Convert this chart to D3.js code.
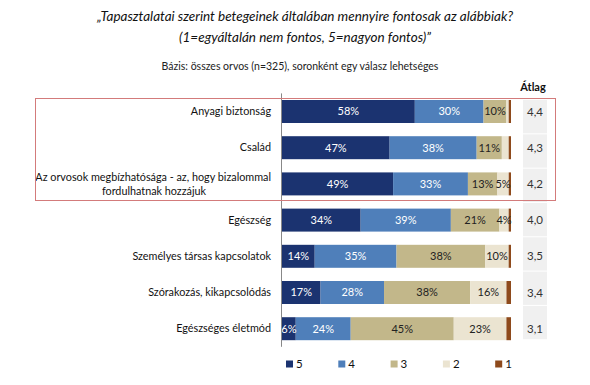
<!DOCTYPE html>
<html>
<head>
    <meta charset='utf-8'>
    <title>Átlag chart</title>
    <style>
        body { margin: 0; background: #fff; }
        svg text { font-family: "Lato", "Open Sans", sans-serif; }
    </style>
</head>
<body>
<svg width="590" height="385"></svg>
<script src="https://d3js.org/d3.v7.min.js"></script>
<script>
    const width = 590
    const height = 385

    const categories = [
        ["Anyagi biztonság"],
        ["Család"],
        ["Az orvosok megbízhatósága - az, hogy bizalommal", "fordulhatnak hozzájuk"],
        ["Egészség"],
        ["Személyes társas kapcsolatok"],
        ["Szórakozás, kikapcsolódás"],
        ["Egészséges életmód"]
    ]
    const keys = ["5", "4", "3", "2", "1"]
    const s5 = [58, 47, 49, 34, 14, 17, 6]
    const s4 = [30, 38, 33, 39, 35, 28, 24]
    const s3 = [10, 11, 13, 21, 38, 38, 45]
    const s2 = [1, 3, 5, 4, 10, 16, 23]
    const s1 = [1, 1, 1, 1, 1, 2, 2]
    const averages = ["4,4", "4,3", "4,2", "4,0", "3,5", "3,4", "3,1"]

    const colors = ["#1b3370", "#4f7fba", "#c2b78a", "#ebe4d1", "#8e4a1c"]
    const labelColors = ["#fff", "#fff", "#222", "#222", "#222"]
    const valuesByKey = {"5": s5, "4": s4, "3": s3, "2": s2, "1": s1}

    const rows = categories.map((c, i) => ({
        idx: i, "5": s5[i], "4": s4[i], "3": s3[i], "2": s2[i], "1": s1[i]
    }))

    const stack = d3.stack().keys(keys).offset(d3.stackOffsetExpand)
    const series = stack(rows)

    const x = d3.scaleLinear().domain([0, 1]).range([282, 511])
    const y = d3.scaleBand()
        .domain(d3.range(categories.length))
        .range([93.4, 346.8])
        .paddingInner(0.365)
        .paddingOuter(0.1825)

    const svg = d3.select("svg")

    // titles
    const title = svg.append("g")
        .attr("text-anchor", "middle")
        .attr("font-style", "italic")
        .attr("font-size", 13.5)
        .attr("fill", "#111")
    title.append("text").attr("x", 305).attr("y", 21)
        .text("„Tapasztalatai szerint betegeinek általában mennyire fontosak az alábbiak?")
    title.append("text").attr("x", 305).attr("y", 42)
        .text("(1=egyáltalán nem fontos, 5=nagyon fontos)”")

    svg.append("text")
        .attr("x", 300).attr("y", 70)
        .attr("text-anchor", "middle")
        .attr("font-size", 10.5)
        .attr("fill", "#222")
        .text("Bázis: összes orvos (n=325), soronként egy válasz lehetséges")

    svg.append("text")
        .attr("x", 533).attr("y", 91)
        .attr("text-anchor", "middle")
        .attr("font-size", 11)
        .attr("font-weight", "bold")
        .attr("fill", "#111")
        .text("Átlag")

    // average column
    const cellTop = y(0)
    const cellBottom = y(categories.length - 1) + y.bandwidth()
    const cellH = (cellBottom - cellTop) / categories.length
    svg.append("g")
        .selectAll("rect")
        .data(averages)
        .join("rect")
        .attr("x", 523)
        .attr("width", 24)
        .attr("y", (d, i) => cellTop + i * cellH)
        .attr("height", cellH - 1)
        .attr("fill", "#f0f0f0")

    svg.append("g")
        .attr("text-anchor", "middle")
        .attr("font-size", 11.5)
        .attr("fill", "#333")
        .selectAll("text")
        .data(averages)
        .join("text")
        .attr("x", 535)
        .attr("y", (d, i) => y(i) + y.bandwidth() / 2)
        .attr("dy", "0.35em")
        .text(d => d)

    // bars
    svg.append("g")
        .selectAll("g")
        .data(series)
        .join("g")
        .attr("fill", (d, i) => colors[i])
        .selectAll("rect")
        .data(d => d)
        .join("rect")
        .attr("x", d => x(d[0]))
        .attr("y", (d, i) => y(i))
        .attr("width", d => x(d[1]) - x(d[0]))
        .attr("height", y.bandwidth())

    // value labels (small segments stay unlabeled)
    svg.append("g")
        .attr("text-anchor", "middle")
        .attr("font-size", 11)
        .selectAll("g")
        .data(series)
        .join("g")
        .attr("fill", (d, i) => labelColors[i])
        .selectAll("text")
        .data(d => d.map((v, i) => ({v, i, val: valuesByKey[d.key][i]})).filter(d => d.val >= 4))
        .join("text")
        .attr("x", d => (x(d.v[0]) + x(d.v[1])) / 2)
        .attr("y", d => y(d.i) + y.bandwidth() / 2)
        .attr("dy", "0.35em")
        .text(d => d.val + "%")

    // category axis
    const axis = svg.append("g")
        .attr("transform", "translate(281.5,0)")
        .call(d3.axisLeft(y).tickSize(0).tickFormat(""))
    axis.select(".domain").attr("stroke", "#888").attr("d", `M0,${93.4}V${346.8}`)

    svg.append("g")
        .attr("text-anchor", "end")
        .attr("font-size", 10.8)
        .attr("fill", "#111")
        .selectAll("text")
        .data(categories)
        .join("text")
        .attr("x", 271)
        .attr("y", (d, i) => y(i) + y.bandwidth() / 2 - (d.length - 1) * 7)
        .each(function (d) {
            d3.select(this).selectAll("tspan")
                .data(d)
                .join("tspan")
                .attr("x", (t, j) => d.length > 1 && j > 0 ? 154 : 271)
                .attr("text-anchor", (t, j) => d.length > 1 && j > 0 ? "middle" : null)
                .attr("dy", (t, j) => j === 0 ? "0.35em" : "14px")
                .text(t => t)
        })

    // highlight box
    svg.append("rect")
        .attr("x", 35.5).attr("y", 98.5)
        .attr("width", 520).attr("height", 102)
        .attr("fill", "none")
        .attr("stroke", "#d37b7b")
        .attr("stroke-width", 1)

    // legend
    const legend = svg.append("g")
        .selectAll("g")
        .data(keys)
        .join("g")
        .attr("transform", (d, i) => `translate(${286 + i * 52.3},364)`)
    legend.append("rect")
        .attr("x", 0).attr("y", -3.5)
        .attr("width", 7).attr("height", 7)
        .attr("fill", (d, i) => colors[i])
    legend.append("text")
        .attr("x", 10).attr("dy", "0.35em")
        .attr("font-size", 11.5)
        .attr("fill", "#111")
        .text(d => d)
</script>
</body>
</html>
